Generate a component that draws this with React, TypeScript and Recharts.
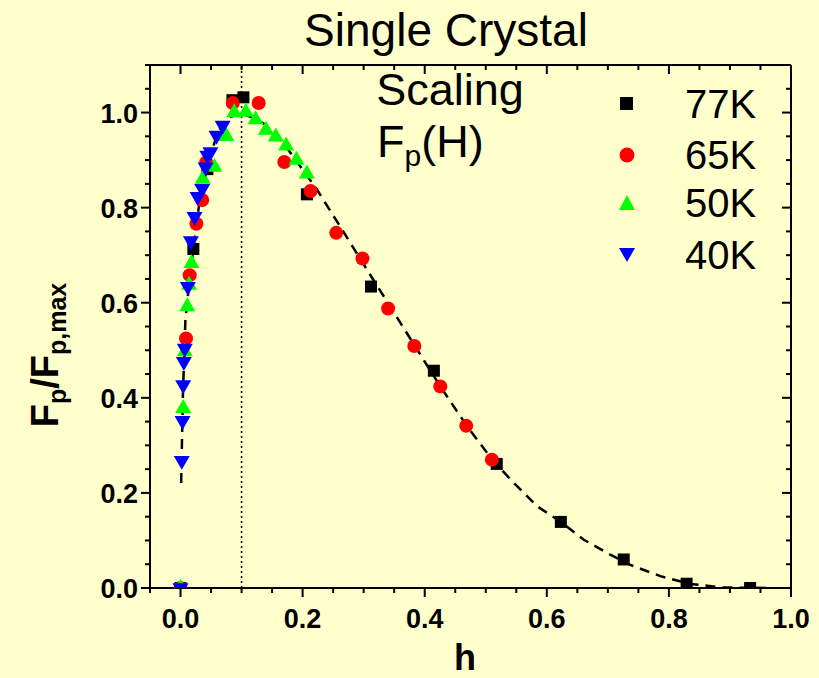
import React from "react";
import {
  ScatterChart,
  Scatter,
  XAxis,
  YAxis,
  ReferenceLine,
} from "recharts";

// reduced field h and normalised pinning force
const H_77K = [0, 0.021, 0.044, 0.085, 0.103, 0.207, 0.312, 0.415, 0.518, 0.623, 0.726, 0.829, 0.933];
const F_77K = [0, 0.713, 0.881, 1.026, 1.032, 0.828, 0.634, 0.457, 0.261, 0.139, 0.06, 0.009, 0.0];

const H_65K = [0, 0.009, 0.015, 0.026, 0.0355, 0.042, 0.0856, 0.128, 0.17, 0.213, 0.255, 0.298, 0.34, 0.383, 0.4255, 0.468, 0.51];
const F_65K = [0, 0.525, 0.658, 0.766, 0.816, 0.895, 1.02, 1.02, 0.896, 0.835, 0.747, 0.693, 0.588, 0.509, 0.424, 0.341, 0.27];

const H_50K = [0, 0.0044, 0.007, 0.011, 0.014, 0.018, 0.0365, 0.0556, 0.075, 0.088, 0.107, 0.123, 0.14, 0.156, 0.173, 0.19, 0.207];
const F_50K = [0, 0.378, 0.497, 0.592, 0.637, 0.683, 0.86, 0.885, 0.95, 1.0, 1.001, 0.985, 0.963, 0.949, 0.93, 0.9, 0.871];

const H_40K = [0, 0.002, 0.0033, 0.0044, 0.0054, 0.007, 0.012, 0.017, 0.023, 0.028, 0.0355, 0.041, 0.044, 0.049, 0.059, 0.069];
const F_40K = [0, 0.268, 0.352, 0.427, 0.476, 0.504, 0.634, 0.73, 0.781, 0.823, 0.84, 0.885, 0.91, 0.917, 0.952, 0.973];

// dashed scaling curve
const FIT_H = [0.001, 0.004, 0.008, 0.016, 0.03, 0.044, 0.06, 0.076, 0.098, 0.115, 0.136, 0.169, 0.191, 0.224, 0.245, 0.265, 0.297, 0.314, 0.341, 0.36, 0.383, 0.4255, 0.469, 0.513, 0.546, 0.584, 0.622, 0.66, 0.704, 0.736, 0.786, 0.835, 0.889, 0.966];
const FIT_F = [0.221, 0.41, 0.564, 0.663, 0.802, 0.886, 0.956, 0.988, 0.998, 0.991, 0.977, 0.935, 0.896, 0.837, 0.794, 0.753, 0.687, 0.652, 0.597, 0.558, 0.511, 0.424, 0.341, 0.266, 0.221, 0.172, 0.14, 0.102, 0.07, 0.049, 0.025, 0.0086, 0.001, 0.0];

const X_TICKS = [-0.05, 0, 0.05, 0.1, 0.15, 0.2, 0.25, 0.3, 0.35, 0.4, 0.45, 0.5, 0.55, 0.6, 0.65, 0.7, 0.75, 0.8, 0.85, 0.9, 0.95, 1.0];
const Y_TICKS = [0, 0.05, 0.1, 0.15, 0.2, 0.25, 0.3, 0.35, 0.4, 0.45, 0.5, 0.55, 0.6, 0.65, 0.7, 0.75, 0.8, 0.85, 0.9, 0.95, 1.0, 1.05, 1.1];
const LEGEND = ["77K", "65K", "50K", "40K"];

const BG = "#ffffcc";
const FONT = '"Liberation Sans", Arial, sans-serif';

const zip = (hs: number[], fs: number[]) => hs.map((h, i) => ({ h, f: fs[i] }));

const isMajor = (v: number) => Math.abs(v / 0.2 - Math.round(v / 0.2)) < 1e-6;

const Square = ({ cx, cy, s = 12 }: any) => (
  <rect x={cx - s / 2} y={cy - s / 2} width={s} height={s} fill="#000" />
);
const Circle = ({ cx, cy, r = 7 }: any) => <circle cx={cx} cy={cy} r={r} fill="#ff0000" />;
const TriUp = ({ cx, cy, w = 16 }: any) => {
  const h = w * 0.87;
  return (
    <path
      d={`M${cx},${cy - (2 * h) / 3} L${cx + w / 2},${cy + h / 3} L${cx - w / 2},${cy + h / 3} Z`}
      fill="#00ff00"
    />
  );
};
const TriDown = ({ cx, cy, w = 16 }: any) => {
  const h = w * 0.87;
  return (
    <path
      d={`M${cx},${cy + (2 * h) / 3} L${cx + w / 2},${cy - h / 3} L${cx - w / 2},${cy - h / 3} Z`}
      fill="#0000ff"
    />
  );
};

const fmt = (v: number) => (Math.abs(v) < 1e-9 ? "0.0" : v.toFixed(1));

const BottomTick = ({ x, y, payload }: any) => {
  const major = isMajor(payload.value);
  return (
    <g>
      <line x1={x} x2={x} y1={y} y2={y + (major ? 9 : 5)} stroke="#000" strokeWidth={2} />
      {major && (
        <text x={x} y={y + 40} textAnchor="middle" fontFamily={FONT} fontWeight="bold" fontSize={27} fill="#000">
          {fmt(payload.value)}
        </text>
      )}
    </g>
  );
};
const TopTick = ({ x, y, payload }: any) => (
  <line x1={x} x2={x} y1={y} y2={y + (isMajor(payload.value) ? 9 : 5)} stroke="#000" strokeWidth={2} />
);
const LeftTick = ({ x, y, payload }: any) => {
  const major = isMajor(payload.value);
  return (
    <g>
      <line x1={x} x2={x - (major ? 9 : 5)} y1={y} y2={y} stroke="#000" strokeWidth={2} />
      {major && (
        <text x={x - 12} y={y + 10} textAnchor="end" fontFamily={FONT} fontWeight="bold" fontSize={27} fill="#000">
          {fmt(payload.value)}
        </text>
      )}
    </g>
  );
};
const RightTick = ({ x, y, payload }: any) => (
  <line x1={x} x2={x - (isMajor(payload.value) ? 9 : 5)} y1={y} y2={y} stroke="#000" strokeWidth={2} />
);

const legendMarks = [
  <rect key="a" x={1} y={1} width={13} height={13} fill="#000" />,
  <circle key="b" cx={8} cy={8} r={7.5} fill="#ff0000" />,
  <path key="c" d="M8,0 L16,15 L0,15 Z" fill="#00ff00" />,
  <path key="d" d="M0,1 L16,1 L8,15 Z" fill="#0000ff" />,
];
const LEGEND_Y = [104, 155, 203, 255];

export default function App() {
  const axisLine = { stroke: "#000", strokeWidth: 2 };
  return (
    <div
      style={{
        position: "absolute",
        left: 0,
        top: 0,
        width: 819,
        height: 678,
        background: BG,
        fontFamily: FONT,
        overflow: "hidden",
      }}
    >
      <ScatterChart width={819} height={678} margin={{ top: 64, right: 27, bottom: 89, left: 149 }}>
        <XAxis
          xAxisId="b"
          type="number"
          dataKey="h"
          domain={[-0.05, 1.0]}
          allowDataOverflow
          ticks={X_TICKS}
          interval={0}
          height={1}
          tickSize={0}
          tickMargin={0}
          tickLine={false}
          axisLine={axisLine}
          tick={<BottomTick />}
        />
        <XAxis
          xAxisId="t"
          orientation="top"
          type="number"
          dataKey="h"
          domain={[-0.05, 1.0]}
          allowDataOverflow
          ticks={X_TICKS}
          interval={0}
          height={1}
          tickSize={0}
          tickMargin={0}
          tickLine={false}
          axisLine={axisLine}
          tick={<TopTick />}
        />
        <YAxis
          yAxisId="l"
          type="number"
          dataKey="f"
          domain={[0, 1.1]}
          allowDataOverflow
          ticks={Y_TICKS}
          interval={0}
          width={1}
          tickSize={0}
          tickMargin={0}
          tickLine={false}
          axisLine={axisLine}
          tick={<LeftTick />}
        />
        <YAxis
          yAxisId="r"
          orientation="right"
          type="number"
          dataKey="f"
          domain={[0, 1.1]}
          allowDataOverflow
          ticks={Y_TICKS}
          interval={0}
          width={1}
          tickSize={0}
          tickMargin={0}
          tickLine={false}
          axisLine={axisLine}
          tick={<RightTick />}
        />
        <ReferenceLine xAxisId="b" yAxisId="l" x={0.1} stroke="#000" strokeWidth={1.5} strokeDasharray="2 3" />
        <Scatter
          xAxisId="b"
          yAxisId="l"
          data={zip(FIT_H, FIT_F)}
          fill="#000"
          stroke="#000"
          line={{ stroke: "#000", strokeWidth: 2.5, strokeDasharray: "10 7" }}
          shape={() => <g />}
          isAnimationActive={false}
        />
        <Scatter xAxisId="b" yAxisId="l" data={zip(H_77K, F_77K)} shape={<Square />} isAnimationActive={false} />
        <Scatter xAxisId="b" yAxisId="l" data={zip(H_65K, F_65K)} shape={<Circle />} isAnimationActive={false} />
        <Scatter xAxisId="b" yAxisId="l" data={zip(H_50K, F_50K)} shape={<TriUp />} isAnimationActive={false} />
        <Scatter xAxisId="b" yAxisId="l" data={zip(H_40K, F_40K)} shape={<TriDown />} isAnimationActive={false} />
      </ScatterChart>

      {/* titles inside the frame */}
      <div style={{ position: "absolute", left: 246, width: 400, top: 7, textAlign: "center", fontSize: 46, lineHeight: 1, color: "#000" }}>
        Single Crystal
      </div>
      <div style={{ position: "absolute", left: 250, width: 400, top: 67, textAlign: "center", fontSize: 45, lineHeight: 1, color: "#000" }}>
        Scaling
      </div>
      <div style={{ position: "absolute", left: 377, top: 119, fontSize: 45, lineHeight: 1, color: "#000", whiteSpace: "nowrap" }}>
        F<sub style={{ fontSize: 30, verticalAlign: "-0.3em" }}>p</sub>(H)
      </div>

      {/* legend */}
      {LEGEND.map((name, i) => (
        <React.Fragment key={name}>
          <svg
            width={16}
            height={16}
            style={{ position: "absolute", left: 619, top: LEGEND_Y[i] - 8 }}
          >
            {legendMarks[i]}
          </svg>
          <div
            style={{
              position: "absolute",
              left: 685,
              top: LEGEND_Y[i] - 20,
              fontSize: 40,
              lineHeight: "40px",
              color: "#000",
            }}
          >
            {name}
          </div>
        </React.Fragment>
      ))}

      {/* axis titles */}
      <div
        style={{
          position: "absolute",
          left: 48,
          top: 355,
          transform: "translate(-50%, -50%) rotate(-90deg)",
          fontSize: 38,
          fontWeight: "bold",
          lineHeight: 1,
          whiteSpace: "nowrap",
          color: "#000",
        }}
      >
        F<sub style={{ fontSize: 25, verticalAlign: "-0.35em" }}>p</sub>/F
        <sub style={{ fontSize: 25, verticalAlign: "-0.35em" }}>p,max</sub>
      </div>
      <div
        style={{
          position: "absolute",
          left: 415,
          width: 100,
          top: 640,
          textAlign: "center",
          fontSize: 36,
          fontWeight: "bold",
          lineHeight: 1,
          color: "#000",
        }}
      >
        h
      </div>
    </div>
  );
}
